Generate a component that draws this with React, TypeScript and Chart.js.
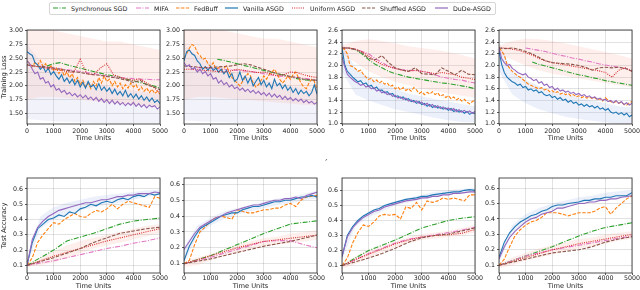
import React, { useEffect, useRef } from "react";
import { Chart, registerables } from "chart.js";

Chart.register(...registerables);

// ---------- shared x grids ----------
const X_FINE = [0,100,200,300,400,500,600,700,800,900,1000,1100,1200,1300,1400,1500,1600,1700,1800,1900,2000,2100,2200,2300,2400,2500,2600,2700,2800,2900,3000,3100,3200,3300,3400,3500,3600,3700,3800,3900,4000,4100,4200,4300,4400,4500,4600,4700,4800,4900,5000];
const X_Q = [0,250,500,750,1000,1250,1500,1750,2000,2250,2500,2750,3000,3250,3500,3750,4000,4250,4500,4750,5000];
const X_H = [0,500,1000,1500,2000,2500,3000,3500,4000,4500,5000];
const X_B = [0,200,400,600,800,1000,1200,1400,1600,1800,2000,2200,2400,2600,2800,3000,3200,3400,3600,3800,4000,4200,4400,4600,4800,5000];

const X_TICKS = [0,1000,2000,3000,4000,5000];
const Y_TICKS_LOSS_A = [1.5,1.75,2.0,2.25,2.5,2.75,3.0];
const Y_TICKS_LOSS_B = [1.0,1.2,1.4,1.6,1.8,2.0,2.2,2.4,2.6];
const Y_TICKS_ACC = [0.1,0.2,0.3,0.4,0.5,0.6];

const NAMES = ["Synchronous SGD","MIFA","FedBuff","Vanilla ASGD","Uniform ASGD","Shuffled ASGD","DuDe-ASGD"];
const COLORS = ["#2ca02c","#e377c2","#ff7f0e","#1f77b4","#d62728","#8c564b","#9467bd"];
const DASHES: number[][] = [[5,1.5,1,1.5],[5,1.5,1,1.5],[3.5,1.5],[],[1,1.2],[3.5,1.5],[]];

// ---------- top row: training loss ----------
const T1_VANILLA = [2.62,2.58,2.55,2.42,2.38,2.30,2.35,2.25,2.32,2.20,2.26,2.18,2.12,2.20,2.08,2.14,2.05,2.12,2.02,2.10,1.98,2.06,1.96,2.08,1.98,2.02,1.93,2.04,1.92,1.98,1.90,1.96,1.86,1.94,1.84,1.90,1.82,1.92,1.80,1.86,1.78,1.85,1.76,1.82,1.74,1.80,1.72,1.78,1.70,1.74,1.68];
const T1_DUDE = [2.45,2.40,2.30,2.22,2.25,2.12,2.15,2.05,2.08,1.98,2.02,1.92,1.95,1.88,1.92,1.85,1.88,1.82,1.86,1.80,1.84,1.78,1.83,1.76,1.80,1.74,1.79,1.72,1.77,1.70,1.75,1.68,1.74,1.67,1.72,1.66,1.70,1.64,1.69,1.65,1.70,1.63,1.68,1.62,1.66,1.60,1.65,1.62,1.64,1.58,1.62];
const T1_FEDBUFF = [2.45,2.40,2.35,2.42,2.38,2.46,2.35,2.40,2.30,2.36,2.28,2.32,2.22,2.30,2.18,2.25,2.15,2.22,2.08,2.15,2.02,2.10,1.98,2.05,1.95,2.08,2.00,2.15,2.05,2.18,2.08,2.12,2.00,2.08,1.98,2.05,1.95,2.02,1.96,2.05,1.98,2.02,1.92,1.98,1.90,1.96,1.88,1.94,1.86,1.90,1.85];
const T1_SYNC = [null,null,null,2.36,2.40,2.42,2.38,2.35,2.32,2.29,2.26,2.23,2.20,2.18,2.15,2.12,2.09,2.06,2.03,2.00,1.96];
const T1_MIFA = [null,null,2.36,2.34,2.33,2.31,2.29,2.28,2.26,2.24,2.22,2.20,2.18,2.16,2.15,2.14,2.13,2.12,2.12,2.11,2.11];
const T1_UNIFORM = [2.38,2.36,2.34,2.32,2.30,2.28,2.26,2.24,2.48,2.22,2.20,2.32,2.40,2.20,2.16,2.12,2.10,2.13,2.05,1.98,1.87];
const T1_SHUFFLED = [2.38,2.36,2.35,2.34,2.32,2.30,2.28,2.26,2.24,2.22,2.20,2.19,2.17,2.15,2.13,2.10,2.06,2.10,2.02,1.98,1.93];
const T1_WARM_LO = [1.75,1.80,1.80,1.78,1.75,1.72,1.70,1.68,1.66,1.65,1.62];
const T1_WARM_HI = [3.05,3.05,3.00,2.95,2.90,2.85,2.80,2.80,2.75,2.70,2.65];
const T1_COOL_LO = [1.40,1.38,1.36,1.35,1.34,1.33,1.33,1.32,1.32,1.32,1.32];
const T1_COOL_HI = [2.75,2.45,2.30,2.20,2.12,2.05,2.00,1.95,1.92,1.88,1.85];

const T2_VANILLA = [2.45,2.62,2.65,2.58,2.55,2.45,2.40,2.30,2.35,2.28,2.35,2.28,2.32,2.25,2.30,2.22,2.28,2.15,2.22,2.08,2.12,2.25,2.10,2.18,2.05,2.15,2.00,2.08,2.15,2.02,2.10,1.98,2.05,1.95,2.12,2.00,2.05,1.95,2.02,1.92,1.98,1.88,1.95,1.85,1.92,1.86,1.90,1.82,1.88,2.02,1.85];
const T2_DUDE = [2.42,2.35,2.38,2.30,2.33,2.25,2.30,2.22,2.26,2.18,2.22,2.12,2.15,2.05,2.10,2.02,2.06,1.98,2.02,1.95,1.98,1.92,1.96,1.90,1.94,1.88,1.92,1.86,1.90,1.84,1.88,1.82,1.87,1.80,1.85,1.79,1.83,1.76,1.81,1.75,1.79,1.73,1.77,1.72,1.76,1.70,1.74,1.69,1.72,1.67,1.70];
const T2_FEDBUFF = [2.50,2.58,2.68,2.75,2.72,2.60,2.55,2.48,2.50,2.40,2.35,2.42,2.30,2.33,2.28,2.32,2.36,2.25,2.15,2.10,2.05,2.00,2.08,2.15,2.22,2.18,2.05,1.98,2.02,2.10,2.18,2.12,2.20,2.25,2.30,2.22,2.12,2.05,2.10,2.18,2.12,2.20,2.25,2.15,2.05,1.98,1.95,2.05,2.12,2.08,1.92];
const T2_SYNC = [null,null,null,null,null,2.48,2.46,2.43,2.40,2.37,2.34,2.31,2.28,2.25,2.22,2.19,2.16,2.13,2.11,2.10,2.10];
const T2_MIFA = [null,null,2.33,2.33,2.32,2.31,2.30,2.29,2.28,2.27,2.26,2.24,2.22,2.20,2.18,2.17,2.16,2.15,2.14,2.12,2.10];
const T2_UNIFORM = [2.30,2.30,2.29,2.28,2.27,2.26,2.25,2.27,2.30,2.28,2.26,2.24,2.25,2.22,2.18,2.20,2.25,2.24,2.20,2.17,2.15];
const T2_SHUFFLED = [2.36,2.35,2.34,2.33,2.33,2.34,2.35,2.36,2.38,2.40,2.38,2.34,2.30,2.26,2.22,2.20,2.17,2.15,2.12,2.11,2.10];
const T2_WARM_LO = [1.75,1.80,1.80,1.78,1.76,1.74,1.72,1.70,1.68,1.66,1.65];
const T2_WARM_HI = [3.05,3.05,3.00,3.00,2.95,2.90,2.85,2.85,2.80,2.75,2.70];
const T2_COOL_LO = [1.38,1.36,1.35,1.34,1.33,1.33,1.32,1.32,1.32,1.32,1.32];
const T2_COOL_HI = [2.75,2.55,2.42,2.32,2.22,2.15,2.10,2.05,2.00,1.96,1.92];

const T3_VANILLA = [2.30,2.02,1.90,1.85,1.80,1.76,1.72,1.74,1.68,1.70,1.64,1.66,1.60,1.63,1.57,1.58,1.53,1.55,1.50,1.52,1.46,1.48,1.44,1.46,1.41,1.43,1.38,1.40,1.35,1.38,1.33,1.35,1.30,1.33,1.28,1.31,1.27,1.29,1.25,1.27,1.23,1.26,1.21,1.24,1.20,1.22,1.18,1.21,1.16,1.19,1.17];
const T3_DUDE = [2.15,1.98,1.85,1.80,1.76,1.72,1.70,1.66,1.68,1.63,1.65,1.60,1.62,1.56,1.58,1.53,1.55,1.50,1.52,1.47,1.49,1.44,1.46,1.42,1.44,1.39,1.41,1.37,1.39,1.35,1.37,1.32,1.35,1.30,1.33,1.28,1.31,1.26,1.29,1.25,1.27,1.23,1.26,1.21,1.24,1.20,1.23,1.19,1.22,1.18,1.21];
const T3_FEDBUFF = [2.30,2.28,2.20,2.00,1.98,1.95,1.90,1.92,1.85,1.80,1.76,1.78,1.72,1.75,1.70,1.73,1.68,1.70,1.64,1.66,1.60,1.63,1.58,1.62,1.57,1.60,1.56,1.62,1.58,1.52,1.55,1.50,1.54,1.51,1.55,1.50,1.53,1.47,1.50,1.45,1.48,1.43,1.46,1.41,1.44,1.39,1.42,1.37,1.34,1.38,1.40];
const T3_SYNC = [2.30,2.30,2.27,2.20,2.10,2.02,1.96,1.90,1.86,1.83,1.80,1.78,1.76,1.74,1.72,1.70,1.69,1.67,1.65,1.63,1.60];
const T3_MIFA = [2.30,2.30,2.28,2.24,2.20,2.12,2.05,1.99,1.95,1.93,1.92,1.91,1.90,1.88,1.84,1.80,1.78,1.76,1.75,1.72,1.70];
const T3_UNIFORM = [2.30,2.30,2.28,2.24,2.16,2.08,2.02,1.98,1.95,1.92,1.90,1.92,1.90,1.88,1.86,1.88,1.86,1.84,1.80,1.78,1.76];
const T3_SHUFFLED = [2.30,2.30,2.28,2.22,2.12,2.10,2.17,2.05,1.96,1.92,1.90,1.96,1.86,1.85,1.84,1.96,1.90,1.84,1.92,1.85,1.84];
const T3_WARM_LO = [2.20,2.05,1.90,1.80,1.72,1.66,1.60,1.56,1.52,1.48,1.45];
const T3_WARM_HI = [2.35,2.42,2.45,2.42,2.38,2.33,2.30,2.27,2.23,2.18,2.12];
const T3_COOL_LO = [1.90,1.50,1.40,1.32,1.25,1.20,1.15,1.10,1.06,1.03,1.02];
const T3_COOL_HI = [2.40,1.95,1.80,1.70,1.60,1.52,1.47,1.42,1.38,1.34,1.30];

const T4_VANILLA = [2.25,2.02,1.88,1.80,1.76,1.72,1.70,1.66,1.68,1.62,1.64,1.58,1.60,1.56,1.58,1.53,1.55,1.50,1.48,1.50,1.45,1.47,1.42,1.45,1.40,1.42,1.37,1.40,1.35,1.37,1.32,1.34,1.30,1.33,1.29,1.31,1.27,1.30,1.25,1.27,1.23,1.26,1.20,1.18,1.20,1.16,1.19,1.15,1.18,1.12,1.15];
const T4_DUDE = [2.30,2.12,2.05,2.00,2.02,1.95,1.92,1.88,1.86,1.84,1.86,1.80,1.78,1.74,1.76,1.70,1.72,1.66,1.68,1.62,1.64,1.58,1.61,1.56,1.58,1.54,1.56,1.52,1.54,1.50,1.52,1.48,1.50,1.46,1.48,1.44,1.46,1.42,1.44,1.40,1.42,1.38,1.40,1.36,1.40,1.35,1.38,1.33,1.36,1.32,1.35];
const T4_FEDBUFF = [2.30,2.25,2.18,2.02,1.95,1.90,1.86,1.82,1.80,1.76,1.72,1.68,1.66,1.64,1.62,1.60,1.62,1.58,1.60,1.55,1.57,1.53,1.55,1.51,1.53,1.50,1.52,1.48,1.50,1.46,1.48,1.45,1.47,1.44,1.46,1.43,1.45,1.41,1.43,1.39,1.45,1.40,1.38,1.36,1.38,1.35,1.37,1.33,1.32,1.36,1.38];
const T4_SYNC = [null,null,null,null,null,2.06,2.02,1.99,1.96,1.93,1.90,1.87,1.84,1.82,1.79,1.77,1.74,1.72,1.70,1.68,1.66];
const T4_MIFA = [null,null,null,null,2.30,2.28,2.26,2.24,2.21,2.18,2.16,2.13,2.11,2.08,2.06,2.03,2.01,1.99,1.97,1.95,1.92];
const T4_UNIFORM = [2.30,2.30,2.28,2.26,2.22,2.18,2.12,2.08,2.05,2.03,2.01,1.99,1.97,1.95,1.93,1.91,1.88,1.80,1.92,1.96,1.90];
const T4_SHUFFLED = [2.30,2.29,2.30,2.28,2.24,2.20,2.14,2.08,2.05,2.04,2.03,2.02,2.00,1.97,1.92,1.96,1.97,1.96,1.97,1.95,1.90];
const T4_WARM_LO = [2.20,2.10,2.00,1.92,1.86,1.82,1.78,1.74,1.70,1.66,1.62];
const T4_WARM_HI = [2.35,2.42,2.46,2.45,2.42,2.38,2.33,2.28,2.23,2.18,2.12];
const T4_COOL_LO = [1.90,1.50,1.35,1.25,1.18,1.12,1.08,1.05,1.02,1.00,1.00];
const T4_COOL_HI = [2.40,1.90,1.75,1.65,1.55,1.50,1.45,1.40,1.35,1.30,1.28];

// ---------- bottom row: test accuracy ----------
const B1_VANILLA = [0.10,0.25,0.34,0.37,0.40,0.41,0.43,0.42,0.45,0.44,0.47,0.48,0.50,0.49,0.51,0.52,0.51,0.53,0.54,0.53,0.55,0.56,0.55,0.57,0.56,0.57];
const B1_DUDE = [0.10,0.27,0.35,0.39,0.42,0.44,0.46,0.47,0.48,0.49,0.50,0.51,0.51,0.52,0.53,0.53,0.54,0.55,0.55,0.56,0.56,0.57,0.57,0.57,0.58,0.575];
const B1_FEDBUFF = [0.10,0.15,0.25,0.30,0.34,0.38,0.37,0.40,0.42,0.44,0.42,0.415,0.44,0.46,0.45,0.47,0.50,0.47,0.50,0.52,0.51,0.50,0.49,0.48,0.55,0.54];
const B1_SYNC = [0.10,0.15,0.20,0.26,0.285,0.31,0.34,0.37,0.39,0.40,0.41];
const B1_MIFA = [0.10,0.115,0.13,0.15,0.17,0.19,0.21,0.225,0.245,0.26,0.28];
const B1_UNIFORM = [0.10,0.13,0.16,0.185,0.21,0.235,0.26,0.28,0.30,0.32,0.34];
const B1_SHUFFLED = [0.10,0.125,0.15,0.18,0.21,0.25,0.28,0.31,0.325,0.34,0.35];
const B1_COOL_LO = [0.10,0.34,0.40,0.43,0.46,0.48,0.50,0.51,0.53,0.55,0.56];
const B1_COOL_HI = [0.12,0.42,0.48,0.51,0.53,0.55,0.56,0.57,0.58,0.59,0.595];
const B1_WARM_LO = [0.09,0.10,0.12,0.15,0.18,0.21,0.23,0.25,0.27,0.29,0.31];
const B1_WARM_HI = [0.10,0.15,0.19,0.23,0.26,0.28,0.30,0.32,0.34,0.36,0.37];

const B2_VANILLA = [0.12,0.21,0.27,0.32,0.34,0.36,0.38,0.40,0.41,0.42,0.42,0.44,0.45,0.46,0.46,0.47,0.48,0.49,0.49,0.50,0.50,0.51,0.52,0.52,0.53,0.52];
const B2_DUDE = [0.19,0.24,0.29,0.33,0.35,0.37,0.39,0.40,0.42,0.43,0.44,0.45,0.46,0.47,0.47,0.48,0.49,0.50,0.50,0.51,0.51,0.52,0.51,0.53,0.54,0.55];
const B2_FEDBUFF = [0.10,0.12,0.22,0.30,0.33,0.37,0.39,0.40,0.39,0.38,0.44,0.43,0.42,0.42,0.43,0.44,0.44,0.45,0.45,0.47,0.48,0.46,0.50,0.52,0.525,0.53];
const B2_SYNC = [0.10,0.125,0.15,0.185,0.22,0.255,0.29,0.32,0.35,0.36,0.37];
const B2_MIFA = [0.10,0.12,0.14,0.165,0.19,0.215,0.24,0.245,0.245,0.22,0.20];
const B2_UNIFORM = [0.10,0.125,0.15,0.175,0.20,0.22,0.24,0.25,0.26,0.27,0.28];
const B2_SHUFFLED = [0.10,0.115,0.13,0.15,0.17,0.19,0.21,0.225,0.24,0.26,0.28];
const B2_COOL_LO = [0.10,0.28,0.34,0.38,0.41,0.43,0.45,0.47,0.48,0.50,0.51];
const B2_COOL_HI = [0.20,0.34,0.39,0.43,0.45,0.47,0.49,0.51,0.52,0.54,0.56];
const B2_WARM_LO = [0.08,0.09,0.12,0.15,0.17,0.19,0.21,0.22,0.23,0.24,0.25];
const B2_WARM_HI = [0.11,0.14,0.16,0.19,0.22,0.24,0.26,0.27,0.29,0.30,0.31];

const B3_VANILLA = [0.16,0.30,0.36,0.40,0.43,0.45,0.47,0.48,0.50,0.51,0.52,0.53,0.54,0.545,0.55,0.56,0.56,0.57,0.575,0.58,0.585,0.59,0.59,0.60,0.605,0.60];
const B3_DUDE = [0.16,0.29,0.35,0.39,0.42,0.44,0.46,0.47,0.49,0.50,0.51,0.52,0.53,0.535,0.54,0.55,0.55,0.56,0.56,0.57,0.57,0.58,0.58,0.585,0.59,0.59];
const B3_FEDBUFF = [0.10,0.15,0.25,0.32,0.37,0.36,0.39,0.43,0.44,0.435,0.44,0.41,0.49,0.48,0.52,0.47,0.53,0.52,0.53,0.55,0.54,0.55,0.54,0.53,0.57,0.57];
const B3_SYNC = [0.10,0.15,0.20,0.235,0.27,0.31,0.35,0.375,0.40,0.415,0.425];
const B3_MIFA = [0.10,0.14,0.18,0.215,0.25,0.275,0.29,0.305,0.32,0.335,0.355];
const B3_UNIFORM = [0.10,0.14,0.175,0.21,0.245,0.27,0.29,0.30,0.305,0.315,0.34];
const B3_SHUFFLED = [0.10,0.125,0.15,0.18,0.215,0.255,0.285,0.30,0.31,0.33,0.35];
const B3_COOL_LO = [0.14,0.36,0.42,0.46,0.50,0.52,0.54,0.56,0.57,0.58,0.585];
const B3_COOL_HI = [0.18,0.40,0.46,0.50,0.53,0.55,0.57,0.59,0.60,0.61,0.615];
const B3_WARM_LO = [0.08,0.11,0.15,0.19,0.22,0.25,0.27,0.28,0.29,0.30,0.32];
const B3_WARM_HI = [0.11,0.16,0.20,0.23,0.26,0.29,0.31,0.32,0.33,0.35,0.37];

const B4_VANILLA = [0.15,0.25,0.31,0.35,0.38,0.40,0.42,0.43,0.45,0.46,0.48,0.49,0.49,0.50,0.505,0.51,0.52,0.52,0.53,0.53,0.54,0.54,0.55,0.55,0.55,0.57];
const B4_DUDE = [0.14,0.22,0.28,0.32,0.35,0.38,0.40,0.41,0.43,0.44,0.45,0.47,0.47,0.48,0.49,0.50,0.50,0.51,0.51,0.52,0.52,0.53,0.53,0.54,0.545,0.55];
const B4_FEDBUFF = [0.10,0.14,0.22,0.29,0.33,0.36,0.38,0.39,0.41,0.44,0.44,0.44,0.43,0.42,0.43,0.44,0.44,0.44,0.45,0.47,0.48,0.43,0.47,0.50,0.53,0.55];
const B4_SYNC = [0.10,0.13,0.16,0.19,0.22,0.255,0.29,0.32,0.345,0.36,0.375];
const B4_MIFA = [0.10,0.13,0.16,0.18,0.20,0.215,0.23,0.245,0.26,0.275,0.29];
const B4_UNIFORM = [0.10,0.125,0.15,0.175,0.20,0.22,0.24,0.255,0.27,0.285,0.30];
const B4_SHUFFLED = [0.10,0.12,0.14,0.16,0.18,0.19,0.20,0.22,0.25,0.27,0.285];
const B4_COOL_LO = [0.12,0.31,0.38,0.42,0.46,0.48,0.50,0.51,0.52,0.53,0.54];
const B4_COOL_HI = [0.17,0.36,0.43,0.47,0.50,0.52,0.54,0.55,0.57,0.58,0.59];
const B4_WARM_LO = [0.08,0.10,0.13,0.15,0.17,0.19,0.21,0.22,0.24,0.26,0.27];
const B4_WARM_HI = [0.11,0.15,0.18,0.21,0.23,0.25,0.27,0.28,0.30,0.31,0.32];

// ---------- layout ----------
const FONT = "DejaVu Sans";
const AXW = 27;
const PADT = 7;
const PADR = 18;
const COL_LEFT = [27, 184, 342, 499.3];
const PLOT_W = 133;

const WARM = "rgba(250,150,130,0.15)";
const COOL = "rgba(150,150,225,0.12)";
const COOL_B = "rgba(130,160,230,0.16)";

type Spec = {
  left: number; top: number; h: number; axh: number; tickPad: number;
  ymin: number; ymax: number; yticks: number[]; ydec: number; ytitle?: string;
  series: { xs: number[]; ys: (number | null)[] }[];
  bands: { xs: number[]; lo: number[]; hi: number[]; color: string }[];
};

function topSpec(col: number, loss: any, bands: any, ymin: number, ymax: number, yticks: number[], ydec: number, ytitle?: string): Spec {
  return { left: COL_LEFT[col], top: 30, h: 94.3, axh: 18, tickPad: 1.5, ymin, ymax, yticks, ydec, ytitle, series: loss, bands };
}
function botSpec(col: number, acc: any, bands: any, ymin: number, ymax: number, ytitle?: string): Spec {
  return { left: COL_LEFT[col], top: 177.7, h: 94.5, axh: 17, tickPad: 0, ymin, ymax, yticks: Y_TICKS_ACC, ydec: 1, ytitle, series: acc, bands };
}
const S = (xs: number[], ys: (number | null)[]) => ({ xs, ys });
const BAND = (lo: number[], hi: number[], color: string) => ({ xs: X_H, lo, hi, color });

const SPECS: Spec[] = [
  topSpec(0, [S(X_Q,T1_SYNC),S(X_Q,T1_MIFA),S(X_FINE,T1_FEDBUFF),S(X_FINE,T1_VANILLA),S(X_Q,T1_UNIFORM),S(X_Q,T1_SHUFFLED),S(X_FINE,T1_DUDE)],
    [BAND(T1_WARM_LO,T1_WARM_HI,WARM),BAND(T1_COOL_LO,T1_COOL_HI,COOL)], 1.31, 3.01, Y_TICKS_LOSS_A, 2, "Training Loss"),
  topSpec(1, [S(X_Q,T2_SYNC),S(X_Q,T2_MIFA),S(X_FINE,T2_FEDBUFF),S(X_FINE,T2_VANILLA),S(X_Q,T2_UNIFORM),S(X_Q,T2_SHUFFLED),S(X_FINE,T2_DUDE)],
    [BAND(T2_WARM_LO,T2_WARM_HI,WARM),BAND(T2_COOL_LO,T2_COOL_HI,COOL)], 1.31, 3.01, Y_TICKS_LOSS_A, 2),
  topSpec(2, [S(X_Q,T3_SYNC),S(X_Q,T3_MIFA),S(X_FINE,T3_FEDBUFF),S(X_FINE,T3_VANILLA),S(X_Q,T3_UNIFORM),S(X_Q,T3_SHUFFLED),S(X_FINE,T3_DUDE)],
    [BAND(T3_WARM_LO,T3_WARM_HI,WARM),BAND(T3_COOL_LO,T3_COOL_HI,COOL_B)], 0.995, 2.61, Y_TICKS_LOSS_B, 1),
  topSpec(3, [S(X_Q,T4_SYNC),S(X_Q,T4_MIFA),S(X_FINE,T4_FEDBUFF),S(X_FINE,T4_VANILLA),S(X_Q,T4_UNIFORM),S(X_Q,T4_SHUFFLED),S(X_FINE,T4_DUDE)],
    [BAND(T4_WARM_LO,T4_WARM_HI,WARM),BAND(T4_COOL_LO,T4_COOL_HI,COOL_B)], 0.995, 2.61, Y_TICKS_LOSS_B, 1),
  botSpec(0, [S(X_H,B1_SYNC),S(X_H,B1_MIFA),S(X_B,B1_FEDBUFF),S(X_B,B1_VANILLA),S(X_H,B1_UNIFORM),S(X_H,B1_SHUFFLED),S(X_B,B1_DUDE)],
    [BAND(B1_WARM_LO,B1_WARM_HI,WARM),BAND(B1_COOL_LO,B1_COOL_HI,COOL_B)], 0.05, 0.672, "Test Accuracy"),
  botSpec(1, [S(X_H,B2_SYNC),S(X_H,B2_MIFA),S(X_B,B2_FEDBUFF),S(X_B,B2_VANILLA),S(X_H,B2_UNIFORM),S(X_H,B2_SHUFFLED),S(X_B,B2_DUDE)],
    [BAND(B2_WARM_LO,B2_WARM_HI,WARM),BAND(B2_COOL_LO,B2_COOL_HI,COOL_B)], 0.041, 0.64),
  botSpec(2, [S(X_H,B3_SYNC),S(X_H,B3_MIFA),S(X_B,B3_FEDBUFF),S(X_B,B3_VANILLA),S(X_H,B3_UNIFORM),S(X_H,B3_SHUFFLED),S(X_B,B3_DUDE)],
    [BAND(B3_WARM_LO,B3_WARM_HI,WARM),BAND(B3_COOL_LO,B3_COOL_HI,COOL_B)], 0.051, 0.682),
  botSpec(3, [S(X_H,B4_SYNC),S(X_H,B4_MIFA),S(X_B,B4_FEDBUFF),S(X_B,B4_VANILLA),S(X_H,B4_UNIFORM),S(X_H,B4_SHUFFLED),S(X_B,B4_DUDE)],
    [BAND(B4_WARM_LO,B4_WARM_HI,WARM),BAND(B4_COOL_LO,B4_COOL_HI,COOL_B)], 0.05, 0.665),
];

const framePlugin = {
  id: "frame",
  afterDraw(chart: any) {
    const { ctx, chartArea: a } = chart;
    ctx.save();
    ctx.strokeStyle = "#262626";
    ctx.lineWidth = 0.8;
    ctx.strokeRect(a.left, a.top, a.right - a.left, a.bottom - a.top);
    ctx.restore();
  },
};

function buildConfig(sp: Spec): any {
  const datasets: any[] = [];
  sp.series.forEach((s, i) => {
    datasets.push({
      label: NAMES[i],
      data: s.xs.map((x, k) => ({ x, y: s.ys[k] })),
      borderColor: COLORS[i],
      borderWidth: 1.1,
      borderDash: DASHES[i],
      pointRadius: 0,
      fill: false,
      tension: 0,
      spanGaps: false,
      order: 10 - i,
    });
  });
  sp.bands.forEach((b) => {
    datasets.push({ data: b.xs.map((x, k) => ({ x, y: b.lo[k] })), borderWidth: 0, pointRadius: 0, fill: false, order: 50 });
    datasets.push({ data: b.xs.map((x, k) => ({ x, y: b.hi[k] })), borderWidth: 0, pointRadius: 0, fill: "-1", backgroundColor: b.color, order: 50 });
  });
  const tickFont = { family: FONT, size: 6.3 };
  return {
    type: "line",
    data: { datasets },
    options: {
      animation: false,
      responsive: false,
      events: [],
      layout: { padding: { left: 0, top: PADT, right: PADR, bottom: 0 } },
      plugins: { legend: { display: false }, tooltip: { enabled: false } },
      scales: {
        x: {
          type: "linear",
          min: 0,
          max: 5000,
          afterBuildTicks: (sc: any) => { sc.ticks = X_TICKS.map((v) => ({ value: v })); },
          afterFit: (sc: any) => { sc.height = sp.axh; },
          ticks: { font: tickFont, color: "#222", padding: sp.tickPad, maxRotation: 0, autoSkip: false, callback: (v: any) => String(v) },
          grid: { color: "rgba(0,0,0,0.13)", lineWidth: 0.9, tickLength: 2, tickColor: "#333", tickWidth: 0.8 },
          border: { display: false },
          title: { display: true, text: "Time Units", font: { family: FONT, size: 6.7, lineHeight: 1.2 }, color: "#222", padding: { top: 0, bottom: 0 } },
        },
        y: {
          type: "linear",
          min: sp.ymin,
          max: sp.ymax,
          afterBuildTicks: (sc: any) => { sc.ticks = sp.yticks.map((v) => ({ value: v })); },
          afterFit: (sc: any) => { sc.width = AXW; },
          ticks: { font: tickFont, color: "#222", padding: 2, autoSkip: false, callback: (v: any) => Number(v).toFixed(sp.ydec) },
          grid: { color: "rgba(0,0,0,0.13)", lineWidth: 0.9, tickLength: 2, tickColor: "#333", tickWidth: 0.8 },
          border: { display: false },
          title: { display: !!sp.ytitle, text: sp.ytitle || "", font: { family: FONT, size: 6.7, lineHeight: 1.2 }, color: "#222", padding: { top: 0, bottom: 0 } },
        },
      },
    },
    plugins: [framePlugin],
  };
}

function Panel({ sp }: { sp: Spec }) {
  const ref = useRef<HTMLCanvasElement | null>(null);
  const w = Math.round(AXW + PLOT_W + PADR);
  const h = Math.round(PADT + sp.h + sp.axh);
  useEffect(() => {
    const chart = new Chart(ref.current as HTMLCanvasElement, buildConfig(sp));
    return () => chart.destroy();
  }, []);
  return (
    <div style={{ position: "absolute", left: sp.left - AXW, top: sp.top - PADT, width: w, height: h }}>
      <canvas ref={ref} width={w} height={h} style={{ width: w, height: h, display: "block" }} />
    </div>
  );
}

const LEGEND_X = [52, 135, 175, 224, 291, 361, 434];

function Legend() {
  return (
    <div style={{ position: "absolute", left: 49, top: 1.5, width: 447, height: 13, border: "1px solid #d6d6d6", borderRadius: 2, background: "#fff", boxSizing: "border-box" }}>
      {NAMES.map((n, i) => (
        <div key={n} style={{ position: "absolute", left: LEGEND_X[i] - 49, top: 0, height: 11, display: "flex", alignItems: "center", whiteSpace: "nowrap" }}>
          <svg width={13} height={6} style={{ display: "block" }}>
            <line x1={0} y1={3} x2={13} y2={3} stroke={COLORS[i]} strokeWidth={1.2} strokeDasharray={DASHES[i].length ? DASHES[i].join(" ") : undefined} />
          </svg>
          <span style={{ marginLeft: 5, fontFamily: FONT, fontSize: 6.3, color: "#222", lineHeight: "11px" }}>{n}</span>
        </div>
      ))}
    </div>
  );
}

export default function App() {
  return (
    <div style={{ position: "fixed", left: 0, top: 0, width: 640, height: 290, background: "#fff", overflow: "hidden" }}>
      {SPECS.map((sp, i) => (
        <Panel key={i} sp={sp} />
      ))}
      <Legend />
      <span style={{ position: "absolute", left: 325, top: 153, fontFamily: "DejaVu Serif", fontSize: 8, color: "#333" }}>,</span>
    </div>
  );
}
